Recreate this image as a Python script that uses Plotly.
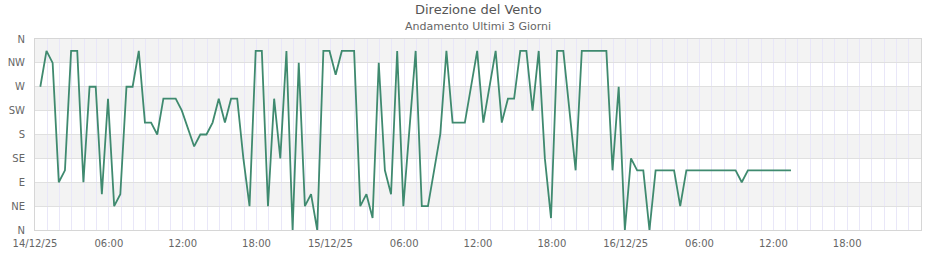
import plotly.graph_objects as go

# ---- data -------------------------------------------------------------
times = [
    "2025-12-14 00:26", "2025-12-14 00:56", "2025-12-14 01:26", "2025-12-14 01:56",
    "2025-12-14 02:26", "2025-12-14 02:56", "2025-12-14 03:26", "2025-12-14 03:56",
    "2025-12-14 04:26", "2025-12-14 04:56", "2025-12-14 05:26", "2025-12-14 05:56",
    "2025-12-14 06:26", "2025-12-14 06:56", "2025-12-14 07:26", "2025-12-14 07:56",
    "2025-12-14 08:26", "2025-12-14 08:56", "2025-12-14 09:26", "2025-12-14 09:56",
    "2025-12-14 10:26", "2025-12-14 11:26", "2025-12-14 11:56", "2025-12-14 12:56",
    "2025-12-14 13:26", "2025-12-14 13:56", "2025-12-14 14:26", "2025-12-14 14:56",
    "2025-12-14 15:26", "2025-12-14 15:56", "2025-12-14 16:26", "2025-12-14 16:56",
    "2025-12-14 17:26",
    "2025-12-14 17:56", "2025-12-14 18:26", "2025-12-14 18:56", "2025-12-14 19:26",
    "2025-12-14 19:56", "2025-12-14 20:26", "2025-12-14 20:56", "2025-12-14 21:26",
    "2025-12-14 21:56", "2025-12-14 22:26", "2025-12-14 22:56", "2025-12-14 23:26",
    "2025-12-14 23:56",
    "2025-12-15 00:26", "2025-12-15 00:56", "2025-12-15 01:56", "2025-12-15 02:26",
    "2025-12-15 02:56", "2025-12-15 03:26", "2025-12-15 03:56", "2025-12-15 04:26",
    "2025-12-15 04:56",
    "2025-12-15 05:26", "2025-12-15 05:56", "2025-12-15 06:56", "2025-12-15 07:26",
    "2025-12-15 07:56", "2025-12-15 08:26", "2025-12-15 08:56",
    "2025-12-15 09:26", "2025-12-15 09:56", "2025-12-15 10:56",
    "2025-12-15 11:56", "2025-12-15 12:26", "2025-12-15 13:26", "2025-12-15 13:56",
    "2025-12-15 14:26", "2025-12-15 14:56", "2025-12-15 15:26", "2025-12-15 15:56",
    "2025-12-15 16:26", "2025-12-15 16:56", "2025-12-15 17:26", "2025-12-15 17:56",
    "2025-12-15 18:26",
    "2025-12-15 18:56", "2025-12-15 19:56", "2025-12-15 20:26", "2025-12-15 22:26",
    "2025-12-15 22:56", "2025-12-15 23:26", "2025-12-15 23:56",
    "2025-12-16 00:26", "2025-12-16 00:56", "2025-12-16 01:26", "2025-12-16 01:56",
    "2025-12-16 02:26", "2025-12-16 03:56", "2025-12-16 04:26", "2025-12-16 04:56",
    "2025-12-16 08:56", "2025-12-16 09:26", "2025-12-16 09:56", "2025-12-16 13:26",
]

direction_deg = [
    270, 337.5, 315, 90,
    112.5, 337.5, 337.5, 90,
    270, 270, 67.5, 247.5,
    45, 67.5, 270, 270,
    337.5, 202.5, 202.5, 180,
    247.5, 247.5, 225, 157.5,
    180, 180, 202.5, 247.5,
    202.5, 247.5, 247.5, 135,
    45,
    337.5, 337.5, 45, 247.5,
    135, 337.5, 0, 315,
    45, 67.5, 0, 337.5,
    337.5,
    292.5, 337.5, 337.5, 45,
    67.5, 22.5, 315, 112.5,
    67.5,
    337.5, 45, 337.5, 45,
    45, 112.5, 180,
    337.5, 202.5, 202.5,
    337.5, 202.5, 337.5, 202.5,
    247.5, 247.5, 337.5, 337.5,
    225, 337.5, 135, 22.5,
    337.5,
    337.5, 112.5, 337.5, 337.5,
    112.5, 270, 0,
    135, 112.5, 112.5, 0,
    112.5, 112.5, 45, 112.5,
    112.5, 90, 112.5, 112.5,
]

y_tick_vals = [0, 45, 90, 135, 180, 225, 270, 315, 360]
y_tick_text = ["N", "NE", "E", "SE", "S", "SW", "W", "NW", "N"]

x_tick_vals = [
    "2025-12-14 00:00", "2025-12-14 06:00", "2025-12-14 12:00", "2025-12-14 18:00",
    "2025-12-15 00:00", "2025-12-15 06:00", "2025-12-15 12:00", "2025-12-15 18:00",
    "2025-12-16 00:00", "2025-12-16 06:00", "2025-12-16 12:00", "2025-12-16 18:00",
]
x_tick_text = [
    "14/12/25", "06:00", "12:00", "18:00",
    "15/12/25", "06:00", "12:00", "18:00",
    "16/12/25", "06:00", "12:00", "18:00",
]
x_range = ["2025-12-14 00:00", "2025-12-17 00:00"]

title_text = "Direzione del Vento"
subtitle_text = "Andamento Ultimi 3 Giorni"

# ---- figure -----------------------------------------------------------
FONT = "DejaVu Sans"
LINE_COLOR = "#3f8a6f"
BAND = "#f3f3f3"
HGRID = "#e0e0e0"
VGRID = "#e9e7f8"
FRAME = "#d6d6d6"

fig = go.Figure()
fig.add_trace(go.Scatter(
    x=times, y=direction_deg, mode="lines",
    line=dict(color=LINE_COLOR, width=1.8),
    showlegend=False, hoverinfo="skip",
))

# alternating bands
shapes = []
for i in range(len(y_tick_vals) - 1):
    if i % 2 == 1:
        shapes.append(dict(
            type="rect", xref="paper", yref="y", x0=0, x1=1,
            y0=y_tick_vals[i], y1=y_tick_vals[i + 1],
            fillcolor=BAND, line=dict(width=0), layer="below",
        ))

fig.update_layout(
    width=940, height=260,
    margin=dict(l=35, r=19, t=39, b=30, autoexpand=False),
    paper_bgcolor="white", plot_bgcolor="white",
    shapes=shapes,
    font=dict(family=FONT, size=10, color="#666666"),
    annotations=[
        dict(text=title_text, xref="paper", yref="paper", x=0.5, y=1.157,
             showarrow=False, xanchor="center", yanchor="middle",
             font=dict(family=FONT, size=13, color="#555555")),
        dict(text=subtitle_text, xref="paper", yref="paper", x=0.5, y=1.068,
             showarrow=False, xanchor="center", yanchor="middle",
             font=dict(family=FONT, size=11, color="#666666")),
    ],
    xaxis=dict(
        type="date", range=x_range, automargin=False,
        tickmode="array", tickvals=x_tick_vals, ticktext=x_tick_text,
        showgrid=True, gridcolor=VGRID, gridwidth=1,
        minor=dict(dtick=3600000, tick0="2025-12-14 00:00", showgrid=True,
                   gridcolor=VGRID, gridwidth=1),
        showline=True, linecolor=FRAME, linewidth=1, mirror=True,
        ticks="outside", ticklen=4, tickcolor="rgba(0,0,0,0)",
        tickfont=dict(family=FONT, size=10, color="#666666"),
        zeroline=False, fixedrange=True,
    ),
    yaxis=dict(
        range=[0, 360], automargin=False,
        tickmode="array", tickvals=y_tick_vals, ticktext=y_tick_text,
        showgrid=True, gridcolor=HGRID, gridwidth=1,
        showline=True, linecolor=FRAME, linewidth=1, mirror=True,
        ticks="outside", ticklen=7, tickcolor="rgba(0,0,0,0)",
        tickfont=dict(family=FONT, size=10, color="#666666"),
        zeroline=False, fixedrange=True,
    ),
)

fig.write_html("out.html")
